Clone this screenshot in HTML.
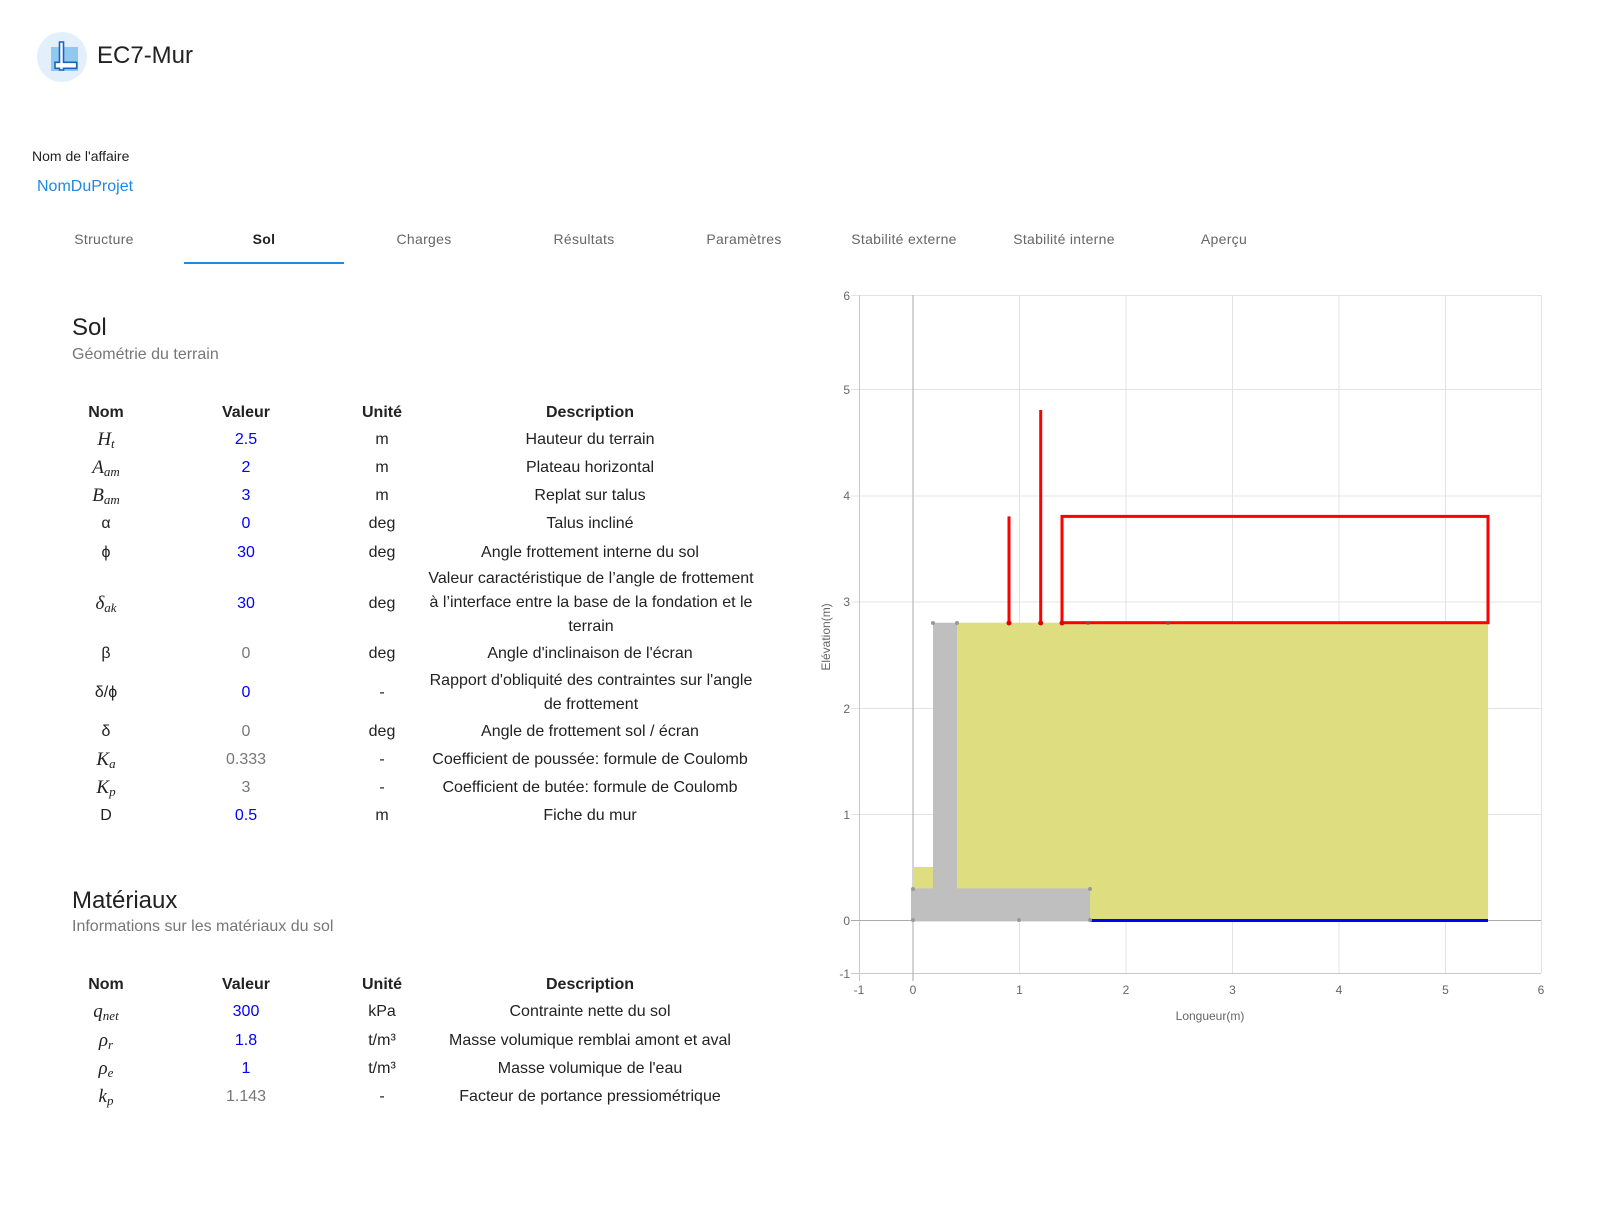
<!DOCTYPE html>
<html><head><meta charset="utf-8"><style>
body{margin:0;width:1608px;height:1225px;background:#fff;font-family:"Liberation Sans",sans-serif;position:relative;overflow:hidden;color:#222}
.a{position:absolute;white-space:nowrap}
.c{position:absolute;width:400px;text-align:center;line-height:24px;font-size:16px;color:#222}
.b{font-weight:bold}
.v{color:#0000ff}
.g{color:#777}
.m{font-family:"Liberation Serif",serif;font-style:italic;font-size:19px}
.m sub{font-size:13px;vertical-align:-3px}
.tab{position:absolute;top:231px;width:160px;text-align:center;font-size:14px;color:#666;letter-spacing:0.3px}
</style></head><body>
<svg class="a" style="left:0;top:0" width="1608" height="1225">
<circle cx="62" cy="57" r="25" fill="#e3f0fb"/>
<rect x="51" y="47" width="27" height="24" fill="#90c8f0"/>
<path d="M59.5 42 H63.5 V62.3 H76.7 V68.3 H63.5 V70 H59.5 V68.3 H55 V62.3 H59.5 Z" fill="#fff" stroke="#1565c0" stroke-width="1.6"/>
</svg>
<div class="a" style="left:97px;top:42px;font-size:24px;color:#222">EC7-Mur</div>
<div class="a" style="left:32px;top:148px;font-size:14px">Nom de l'affaire</div>
<div class="a" style="left:37px;top:178px;font-size:16px;color:#1e88e5">NomDuProjet</div>
<div class="tab" style="left:24px">Structure</div>
<div class="tab" style="left:184px;color:#222;font-weight:bold">Sol</div>
<div class="tab" style="left:344px">Charges</div>
<div class="tab" style="left:504px">Résultats</div>
<div class="tab" style="left:664px">Paramètres</div>
<div class="tab" style="left:824px">Stabilité externe</div>
<div class="tab" style="left:984px">Stabilité interne</div>
<div class="tab" style="left:1144px">Aperçu</div>
<div class="a" style="left:184px;top:262px;width:160px;height:2px;background:#1e88e5"></div>

<div class="a" style="left:72px;top:314px;font-size:24px">Sol</div>
<div class="a" style="left:72px;top:346px;font-size:16px;color:#777">Géométrie du terrain</div>

<div class="c b" style="left:-94px;top:401px">Nom</div>
<div class="c b" style="left:46px;top:401px">Valeur</div>
<div class="c b" style="left:182px;top:401px">Unité</div>
<div class="c b" style="left:390px;top:401px">Description</div>

<div class="c m" style="left:-94px;top:428px">H<sub>t</sub></div>
<div class="c v" style="left:46px;top:428px">2.5</div>
<div class="c" style="left:182px;top:428px">m</div>
<div class="c" style="left:390px;top:428px">Hauteur du terrain</div>

<div class="c m" style="left:-94px;top:456px">A<sub>am</sub></div>
<div class="c v" style="left:46px;top:456px">2</div>
<div class="c" style="left:182px;top:456px">m</div>
<div class="c" style="left:390px;top:456px">Plateau horizontal</div>

<div class="c m" style="left:-94px;top:484px">B<sub>am</sub></div>
<div class="c v" style="left:46px;top:484px">3</div>
<div class="c" style="left:182px;top:484px">m</div>
<div class="c" style="left:390px;top:484px">Replat sur talus</div>

<div class="c" style="left:-94px;top:512px">α</div>
<div class="c v" style="left:46px;top:512px">0</div>
<div class="c" style="left:182px;top:512px">deg</div>
<div class="c" style="left:390px;top:512px">Talus incliné</div>

<div class="c" style="left:-94px;top:541px">ϕ</div>
<div class="c v" style="left:46px;top:541px">30</div>
<div class="c" style="left:182px;top:541px">deg</div>
<div class="c" style="left:390px;top:541px">Angle frottement interne du sol</div>

<div class="c m" style="left:-94px;top:592px">δ<sub>ak</sub></div>
<div class="c v" style="left:46px;top:592px">30</div>
<div class="c" style="left:182px;top:592px">deg</div>
<div class="c" style="left:423px;width:336px;top:567px;white-space:normal">Valeur caractéristique de l’angle de frottement à l’interface entre la base de la fondation et le terrain</div>

<div class="c" style="left:-94px;top:642px">β</div>
<div class="c g" style="left:46px;top:642px">0</div>
<div class="c" style="left:182px;top:642px">deg</div>
<div class="c" style="left:390px;top:642px">Angle d'inclinaison de l'écran</div>

<div class="c" style="left:-94px;top:681px">δ/ϕ</div>
<div class="c v" style="left:46px;top:681px">0</div>
<div class="c" style="left:182px;top:681px">-</div>
<div class="c" style="left:423px;width:336px;top:669px;white-space:normal">Rapport d'obliquité des contraintes sur l'angle de frottement</div>

<div class="c" style="left:-94px;top:720px">δ</div>
<div class="c g" style="left:46px;top:720px">0</div>
<div class="c" style="left:182px;top:720px">deg</div>
<div class="c" style="left:390px;top:720px">Angle de frottement sol / écran</div>

<div class="c m" style="left:-94px;top:748px">K<sub>a</sub></div>
<div class="c g" style="left:46px;top:748px">0.333</div>
<div class="c" style="left:182px;top:748px">-</div>
<div class="c" style="left:390px;top:748px">Coefficient de poussée: formule de Coulomb</div>

<div class="c m" style="left:-94px;top:776px">K<sub>p</sub></div>
<div class="c g" style="left:46px;top:776px">3</div>
<div class="c" style="left:182px;top:776px">-</div>
<div class="c" style="left:390px;top:776px">Coefficient de butée: formule de Coulomb</div>

<div class="c" style="left:-94px;top:804px">D</div>
<div class="c v" style="left:46px;top:804px">0.5</div>
<div class="c" style="left:182px;top:804px">m</div>
<div class="c" style="left:390px;top:804px">Fiche du mur</div>

<div class="a" style="left:72px;top:887px;font-size:24px">Matériaux</div>
<div class="a" style="left:72px;top:918px;font-size:16px;color:#777">Informations sur les matériaux du sol</div>

<div class="c b" style="left:-94px;top:973px">Nom</div>
<div class="c b" style="left:46px;top:973px">Valeur</div>
<div class="c b" style="left:182px;top:973px">Unité</div>
<div class="c b" style="left:390px;top:973px">Description</div>

<div class="c m" style="left:-94px;top:1000px">q<sub>net</sub></div>
<div class="c v" style="left:46px;top:1000px">300</div>
<div class="c" style="left:182px;top:1000px">kPa</div>
<div class="c" style="left:390px;top:1000px">Contrainte nette du sol</div>

<div class="c m" style="left:-94px;top:1029px">ρ<sub>r</sub></div>
<div class="c v" style="left:46px;top:1029px">1.8</div>
<div class="c" style="left:182px;top:1029px">t/m³</div>
<div class="c" style="left:390px;top:1029px">Masse volumique remblai amont et aval</div>

<div class="c m" style="left:-94px;top:1057px">ρ<sub>e</sub></div>
<div class="c v" style="left:46px;top:1057px">1</div>
<div class="c" style="left:182px;top:1057px">t/m³</div>
<div class="c" style="left:390px;top:1057px">Masse volumique de l'eau</div>

<div class="c m" style="left:-94px;top:1085px">k<sub>p</sub></div>
<div class="c g" style="left:46px;top:1085px">1.143</div>
<div class="c" style="left:182px;top:1085px">-</div>
<div class="c" style="left:390px;top:1085px">Facteur de portance pressiométrique</div>

<svg class="a" style="left:0;top:0" width="1608" height="1225" font-family="Liberation Sans, sans-serif" font-size="12" fill="#666">
<g stroke="#e3e3e3" stroke-width="1">
<line x1="1019.5" y1="295" x2="1019.5" y2="973"/>
<line x1="1126" y1="295" x2="1126" y2="973"/>
<line x1="1232.5" y1="295" x2="1232.5" y2="973"/>
<line x1="1339" y1="295" x2="1339" y2="973"/>
<line x1="1445.5" y1="295" x2="1445.5" y2="973"/>
<line x1="1541.5" y1="295" x2="1541.5" y2="973"/>
<line x1="851" y1="295.5" x2="1541" y2="295.5"/>
<line x1="851" y1="389.5" x2="1541" y2="389.5"/>
<line x1="851" y1="496" x2="1541" y2="496"/>
<line x1="851" y1="602" x2="1541" y2="602"/>
<line x1="851" y1="708.5" x2="1541" y2="708.5"/>
<line x1="851" y1="814.5" x2="1541" y2="814.5"/>
</g>
<g stroke="#c8c8c8"><line x1="859.5" y1="295" x2="859.5" y2="981"/><line x1="851" y1="973.5" x2="1541" y2="973.5"/></g>
<g stroke="#aaa"><line x1="913" y1="295" x2="913" y2="981"/><line x1="851" y1="920.5" x2="1541" y2="920.5"/></g>
<rect x="955" y="622.7" width="533" height="297.6" fill="#dede80"/>
<rect x="913" y="867" width="20" height="22" fill="#dede80"/>
<rect x="933" y="622.7" width="24" height="266" fill="#bfbfbf"/>
<rect x="911" y="888.4" width="179" height="33" fill="#bfbfbf"/>
<line x1="1090" y1="920.5" x2="1488" y2="920.5" stroke="#0000ff" stroke-width="3"/>
<g fill="#999"><circle cx="933" cy="623" r="2"/><circle cx="957" cy="623" r="2"/><circle cx="1090" cy="889" r="2"/><circle cx="1090" cy="920" r="2"/><circle cx="913" cy="920" r="2"/><circle cx="1019" cy="920" r="2"/><circle cx="913" cy="889" r="2"/></g>
<g stroke="#ff0000" stroke-width="3" fill="none">
<line x1="1009" y1="622.7" x2="1009" y2="516.4"/>
<line x1="1040.7" y1="622.7" x2="1040.7" y2="410"/>
<rect x="1062" y="516.4" width="426" height="106.3"/>
</g>
<g fill="#e00000"><circle cx="1009" cy="623" r="2.5"/><circle cx="1040.7" cy="623" r="2.5"/><circle cx="1062" cy="623" r="2.5"/></g>
<g fill="#666" opacity="0.6"><circle cx="1088" cy="623" r="2"/><circle cx="1168" cy="623" r="2"/></g>
<g text-anchor="end">
<text x="850" y="300">6</text><text x="850" y="394">5</text><text x="850" y="500">4</text><text x="850" y="606">3</text><text x="850" y="713">2</text><text x="850" y="819">1</text><text x="850" y="925">0</text><text x="850" y="978">-1</text>
</g>
<g text-anchor="middle">
<text x="859" y="994">-1</text><text x="913" y="994">0</text><text x="1019.5" y="994">1</text><text x="1126" y="994">2</text><text x="1232.5" y="994">3</text><text x="1339" y="994">4</text><text x="1445.5" y="994">5</text><text x="1541" y="994">6</text>
<text x="1210" y="1020">Longueur(m)</text>
<text transform="translate(830,637) rotate(-90)">Elévation(m)</text>
</g>
</svg>
</body></html>
